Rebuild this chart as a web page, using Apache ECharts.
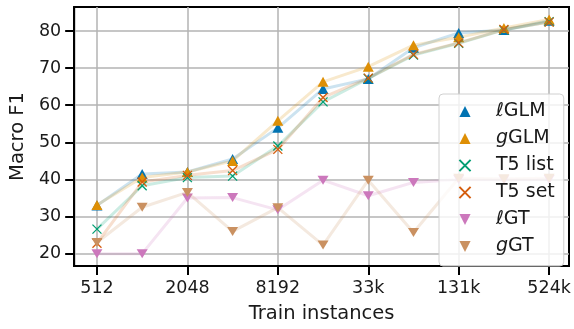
<!DOCTYPE html>
<html><head><meta charset="utf-8">
<script src="https://cdn.jsdelivr.net/npm/echarts@6/dist/echarts.min.js"></script>
<style>html,body{margin:0;padding:0;background:#fff}#c{width:574px;height:329px}</style>
</head><body><div id="c"></div>
<script>
const trainInstances = [512, 1024, 2048, 4096, 8192, 16384, 32768, 65536, 131072, 262144, 524288];
const xTickValues = [512, 2048, 8192, 32768, 131072, 524288];
const xTickLabels = ['512', '2048', '8192', '33k', '131k', '524k'];
const yTickValues = [20, 30, 40, 50, 60, 70, 80];
const seriesNames = ['ℓGLM', 'gGLM', 'T5 list', 'T5 set', 'ℓGT', 'gGT'];
const lGLM   = [33.0, 41.5, 42.0, 45.5, 53.9, 64.4, 67.1, 75.5, 79.5, 80.3, 82.8];
const gGLM   = [33.1, 40.5, 42.0, 45.0, 55.8, 66.3, 70.4, 76.2, 78.3, 80.8, 83.1];
const t5List = [26.6, 38.3, 40.5, 40.9, 49.0, 60.9, 67.2, 73.5, 76.7, 80.3, 82.5];
const t5Set  = [22.8, 39.3, 41.1, 42.4, 48.1, 62.1, 67.3, 73.7, 76.8, 80.4, 82.4];
const lGT    = [20.0, 20.0, 35.0, 35.1, 31.8, 39.8, 35.6, 39.2, 40.0, 39.9, 40.0];
const gGT    = [23.0, 32.5, 36.5, 26.0, 32.4, 22.3, 39.8, 25.7, 40.3, 40.2, 40.3];

const colors = ['#0173b2', '#de8f05', '#029e73', '#d55e0f', '#cc78bc', '#ca9161'];
const xPath = 'path://M0,0L10,10M10,0L0,10';
const values = [lGLM, gGLM, t5List, t5Set, lGT, gGT];
const markerKinds = ['up', 'up', 'x', 'x', 'down', 'down'];

function hexA(h, a) {
  const r = parseInt(h.slice(1, 3), 16), g = parseInt(h.slice(3, 5), 16), b = parseInt(h.slice(5, 7), 16);
  return `rgba(${r},${g},${b},${a})`;
}

const series = seriesNames.map((name, i) => {
  const kind = markerKinds[i];
  const s = {
    name, type: 'line',
    data: trainInstances.map((n, j) => [n, values[i][j]]),
    lineStyle: { color: hexA(colors[i], 0.2), width: 3 },
    emphasis: { disabled: true },
    silent: true,
    z: 2 + i
  };
  if (kind === 'up') {
    s.symbol = 'triangle'; s.symbolSize = [11, 10];
    s.itemStyle = { color: colors[i] };
  } else if (kind === 'down') {
    s.symbol = 'triangle'; s.symbolSize = [11, 9]; s.symbolRotate = 180;
    s.itemStyle = { color: colors[i] };
  } else {
    s.symbol = xPath; s.symbolSize = 9;
    s.itemStyle = { color: 'rgba(0,0,0,0)', borderColor: colors[i], borderWidth: 1.3 };
  }
  return s;
});

const chart = echarts.init(document.getElementById('c'), null, { renderer: 'canvas' });
const font = 'DejaVu Sans';
const richBase = { fontSize: 19, fontFamily: font, color: '#1a1a1a', lineHeight: 16, height: 16 };
chart.setOption({
  animation: false,
  grid: { left: 71, right: 5, top: 7, bottom: 56, show: true, borderColor: '#000', borderWidth: 2, backgroundColor: 'transparent' },
  xAxis: {
    type: 'log', logBase: 2, min: 361, max: 711000,
    name: 'Train instances', nameLocation: 'middle', nameGap: 38,
    nameTextStyle: { fontSize: 19.5, color: '#1a1a1a', fontFamily: font },
    axisLine: { lineStyle: { color: '#000', width: 2 } },
    axisTick: { show: true, length: 9, lineStyle: { color: '#000', width: 2 }, customValues: xTickValues },
    axisLabel: {
      customValues: xTickValues, fontSize: 17.5, color: '#1a1a1a', fontFamily: font, margin: 13,
      formatter: v => { const k = xTickValues.indexOf(Math.round(v)); return k >= 0 ? xTickLabels[k] : ''; }
    },
    splitLine: { show: true, lineStyle: { color: '#b3b3b3', width: 1.5 } },
    minorTick: { show: false }
  },
  yAxis: {
    type: 'value', min: 16.67, max: 86.48,
    name: 'Macro F1', nameLocation: 'middle', nameGap: 42,
    nameTextStyle: { fontSize: 19.5, color: '#1a1a1a', fontFamily: font },
    axisLine: { show: true, lineStyle: { color: '#000', width: 2 } },
    axisTick: { show: true, length: 9, lineStyle: { color: '#000', width: 2 }, customValues: yTickValues },
    axisLabel: { customValues: yTickValues, fontSize: 17.5, color: '#1a1a1a', fontFamily: font, margin: 13 },
    splitLine: { show: true, lineStyle: { color: '#b3b3b3', width: 1.5 } }
  },
  legend: {
    orient: 'vertical', left: 439, top: 94,
    padding: [8, 9, 10, 0],
    itemWidth: 52, itemHeight: 14, itemGap: 8,
    backgroundColor: 'rgba(255,255,255,0.8)', borderColor: '#d0d0d0', borderWidth: 1, borderRadius: 4,
    lineStyle: { opacity: 0, width: 0 },
    selectedMode: false,
    data: seriesNames,
    formatter: name => {
      const m = name.match(/^(ℓ|g)(.*)$/);
      return m ? `{it|${m[1]}}{n|${m[2]}}` : `{n|${name}}`;
    },
    textStyle: {
      fontSize: 19, color: '#1a1a1a', fontFamily: font, lineHeight: 16,
      rich: { it: Object.assign({ fontStyle: 'italic' }, richBase), n: Object.assign({}, richBase) }
    },
    z: 10
  },
  series
});
</script></body></html>
